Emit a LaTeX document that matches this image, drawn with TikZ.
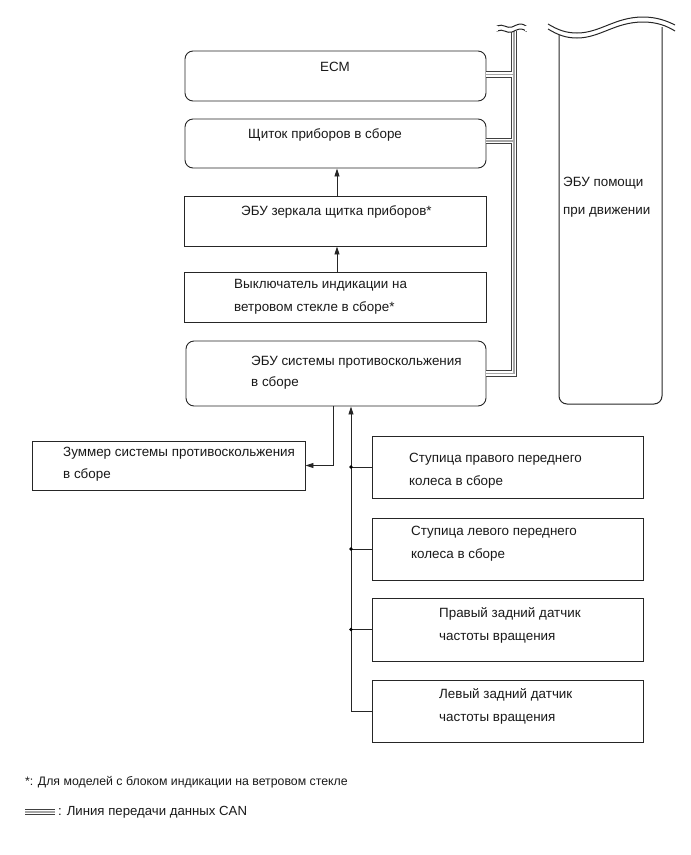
\documentclass[tikz,border=0pt]{standalone}
\usepackage{fontspec}
\setmainfont{Liberation Sans}
\usetikzlibrary{arrows.meta}
\begin{document}
\begin{tikzpicture}[x=1pt,y=-1pt,
  box/.style={draw=black!85, line width=0.9pt, inner sep=0pt, minimum width=#1},
  box/.default=271pt,
  rbox/.style={box=#1, rounded corners=8pt},
  rbox/.default=301pt,
  lbl/.style={font=\fontsize{13.4}{23}\selectfont, text=black!90, inner sep=0pt, anchor=west, align=left},
  arr/.style={draw=black!85, line width=0.9pt, -{Triangle[length=8pt,width=5pt]}},
  wire/.style={draw=black!85, line width=0.9pt},
  jdot/.style={circle, fill=black, inner sep=0pt, minimum size=3.6pt},
  wave/.style={draw=black!85, line width=1pt}
]
\useasboundingbox (0,0) rectangle (691,855);

% boxes
\node[rbox=301pt, minimum height=50pt] (ecm) at (335.5,76) {};
\node[rbox=301pt, minimum height=49pt] (cluster) at (335.5,143.5) {};
\node[box=302pt, minimum height=50pt] (mirror) at (335,221) {};
\node[box=302pt, minimum height=50pt] (switch) at (335,297) {};
\node[rbox=300pt, minimum height=65pt] (antiskid) at (336,373.5) {};
\node[box=273pt, minimum height=49pt] (buzzer) at (168.5,465.5) {};
\node[box=271pt, minimum height=62pt] (s1) at (507.5,467) {};
\node[box=271pt, minimum height=62pt] (s2) at (507.5,549) {};
\node[box=271pt, minimum height=63pt] (s3) at (507.5,629.5) {};
\node[box=271pt, minimum height=62pt] (s4) at (507.5,711) {};

% labels
\node[lbl, anchor=center] (tecm) at (335,67) {ECM};
\node[lbl] (tcluster) at (248,135) {Щиток приборов в сборе};
\node[lbl] (tmirror) at (241,212) {ЭБУ зеркала щитка приборов*};
\node[lbl] (tswitch) at (234,296.5) {Выключатель индикации на\\ветровом стекле в сборе*};
\node[lbl, font=\fontsize{13.4}{21}\selectfont] (tantiskid) at (251,372.5) {ЭБУ системы противоскольжения\\в сборе};
\node[lbl, font=\fontsize{13.4}{22}\selectfont] (tbuzzer) at (63,464) {Зуммер системы противоскольжения\\в сборе};
\node[lbl] (ts1) at (409,470.5) {Ступица правого переднего\\колеса в сборе};
\node[lbl] (ts2) at (411,543.5) {Ступица левого переднего\\колеса в сборе};
\node[lbl] (ts3) at (439,625.5) {Правый задний датчик\\частоты вращения};
\node[lbl] (ts4) at (439,706.5) {Левый задний датчик\\частоты вращения};
\node[lbl, font=\fontsize{13.4}{28}\selectfont] (thelper) at (563,197) {ЭБУ помощи\\при движении};
\node[lbl, font=\fontsize{12.3}{14}\selectfont] (tnote) at (25,782) {*: Для моделей с блоком индикации на ветровом стекле};
\node[lbl, font=\fontsize{13.2}{14}\selectfont] (tlegend) at (58,812) {: Линия передачи данных CAN};

% helper ECU box (broken top)
\draw[wave, rounded corners=8pt] (559,35) -- (559,404) -- (662,404) -- (662,27);
\draw[wave] (548,24) .. controls (558,30) and (566,33) .. (577,33)
   .. controls (600,33) and (615,17) .. (643,17)
   .. controls (657,17) and (667,21) .. (675,25);
\draw[wave] (548,29) .. controls (558,35) and (566,38) .. (577,38)
   .. controls (600,38) and (615,22) .. (643,22)
   .. controls (657,22) and (667,26) .. (675,31);

% coordinates
\coordinate (busx) at (514,0);
\coordinate (bustop) at (514,31);
\coordinate (ax) at (337,0);
\coordinate (bx) at (333,0);
\coordinate (vx) at (351,0);
\coordinate (leg1) at (25,812);
\coordinate (leg2) at (55,812);

% CAN bus (layered)
\foreach \w/\c in {6.5/black!75, 4.5/white, 1.6/black!35} {
  \draw[line width=\w pt, draw=\c, line join=miter] ([yshift=1.5pt]ecm.east) -- ([yshift=1.5pt]ecm.east -| busx);
  \draw[line width=\w pt, draw=\c, line join=miter] ([yshift=2.5pt]cluster.east) -- ([yshift=2.5pt]cluster.east -| busx);
  \draw[line width=\w pt, draw=\c, line join=miter] (antiskid.east) -| (bustop);
  \draw[line width=\w pt, draw=\c] (leg1) -- (leg2);
}
% bus break
\draw[wave, fill=white] (497,26) .. controls (503,23) and (507,29) .. (512,27) .. controls (517,25) and (520,22) .. (526,26)
  -- (526,31) .. controls (520,27) and (517,30) .. (512,32) .. controls (507,34) and (503,28) .. (497,31) -- cycle;
\draw[draw=white, line width=2pt] (497,26) -- (497,31) (526,26) -- (526,31);

% arrows between upper boxes
\draw[arr] (mirror.north -| ax) -- (cluster.south -| ax);
\draw[arr] (switch.north -| ax) -- (mirror.south -| ax);

% antiskid to buzzer
\draw[arr] (antiskid.south -| bx) |- (buzzer.east);

% sensors to antiskid
\draw[arr] (s4.west) -| (antiskid.south -| vx);
\draw[wire] (s1.west) -- (s1.west -| vx);
\draw[wire] (s2.west) -- (s2.west -| vx);
\draw[wire] (s3.west) -- (s3.west -| vx);
\node[jdot] (j1) at (s1.west -| vx) {};
\node[jdot] (j2) at (s2.west -| vx) {};
\node[jdot] (j3) at (s3.west -| vx) {};
\end{tikzpicture}
\end{document}
